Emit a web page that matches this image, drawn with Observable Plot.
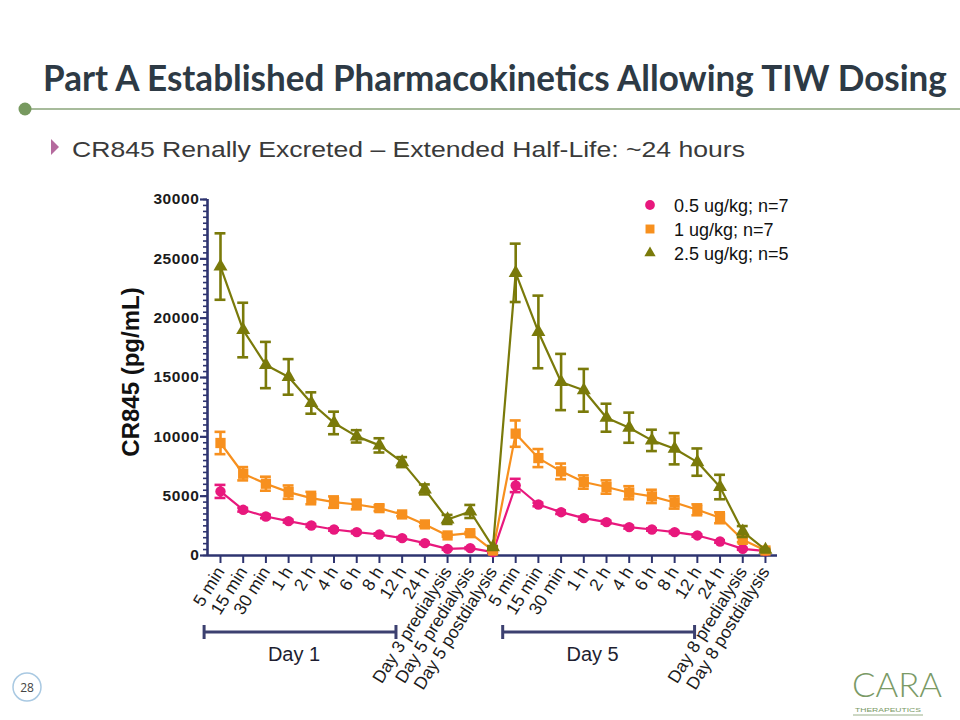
<!DOCTYPE html>
<html>
<head>
<meta charset="utf-8">
<script src="https://cdn.jsdelivr.net/npm/d3@7"></script>
<script src="https://cdn.jsdelivr.net/npm/@observablehq/plot@0.6"></script>
<style>
  html, body { margin: 0; padding: 0; background: #ffffff; }
  #page { position: relative; width: 960px; height: 720px; overflow: hidden; background: #ffffff; }
  #chart { position: absolute; left: 0; top: 180px; }
  #deco { position: absolute; left: 0; top: 0; }
  #chart svg g[aria-label="y-axis tick label"] text { letter-spacing: 0.6px; }
</style>
</head>
<body>
<div id="page">
  <div id="chart"></div>
  <svg id="deco" width="960" height="720"></svg>
</div>
<script>
// ---------- data ----------
const xLabels = [
  "5 min", "15 min", "30 min", "1 h", "2 h", "4 h", "6 h", "8 h", "12 h", "24 h",
  "Day 3 predialysis", "Day 5 predialysis", "Day 5 postdialysis",
  "5 min", "15 min", "30 min", "1 h", "2 h", "4 h", "6 h", "8 h", "12 h", "24 h",
  "Day 8 predialysis", "Day 8 postdialysis"
];
const seriesNames = ["0.5 ug/kg; n=7", "1 ug/kg; n=7", "2.5 ug/kg; n=5"];

const mean05 = [5400, 3850, 3290, 2900, 2530, 2190, 1970, 1770, 1460, 1040, 560, 620, 280,
                5900, 4300, 3650, 3150, 2810, 2390, 2190, 1970, 1690, 1180, 560, 370];
const sem05  = [550, 150, 150, 120, 120, 100, 100, 100, 100, 80, 80, 80, 50,
                560, 150, 150, 120, 120, 120, 100, 100, 100, 100, 80, 50];

const mean1  = [9480, 6890, 6050, 5340, 4840, 4500, 4300, 3990, 3460, 2620, 1690, 1880, 420,
                10270, 8210, 7090, 6190, 5770, 5290, 4980, 4470, 3850, 3180, 1320, 420];
const sem1   = [940, 560, 590, 560, 520, 480, 410, 240, 150, 150, 100, 100, 60,
                1110, 760, 660, 560, 560, 550, 560, 520, 460, 460, 200, 60];

const mean25 = [24350, 19000, 16050, 15050, 12850, 11170, 10040, 9280, 7870, 5570, 3040, 3710, 700,
                23820, 18840, 14620, 13920, 11610, 10770, 9700, 9000, 7870, 5770, 2020, 480];
const sem25  = [2800, 2300, 1950, 1500, 900, 950, 520, 600, 420, 420, 380, 550, 100,
                2460, 3060, 2370, 1800, 1180, 1270, 900, 1320, 1150, 1030, 460, 80];

const yTicks = [0, 5000, 10000, 15000, 20000, 25000, 30000];
const yMinorStep = 500;
const dayGroups = ["Day 1", "Day 5"];
const dayFrom = [-0.7, 12.45];
const dayTo = [7.75, 20.9];

// ---------- styles ----------
const colors = ["#e8187d", "#f7901e", "#7a7a0a"];
const symbols = ["circle", "square", "triangle"];
const radii = [5.2, 5.8, 5.2];
const axisColor = "#2e3470";
const font = "'Liberation Sans', Arial, sans-serif";

const allMeans = [mean05, mean1, mean25];
const allSems = [sem05, sem1, sem25];
const xDomain = [-0.572, 24.53];

const rows = seriesNames.map((name, s) =>
  xLabels.map((lab, i) => ({ i, label: lab, series: name, s, v: allMeans[s][i], e: allSems[s][i] }))
);

const seriesMarks = rows.flatMap((data, s) => [
  Plot.line(data, { x: "i", y: "v", stroke: colors[s], strokeWidth: 2.2 }),
  Plot.ruleX(data, { x: "i", y1: d => d.v - d.e, y2: d => d.v + d.e, stroke: colors[s], strokeWidth: 2.6 }),
  Plot.ruleY(data, { y: d => d.v + d.e, x1: d => d.i - 0.24, x2: d => d.i + 0.24, stroke: colors[s], strokeWidth: 2.6 }),
  Plot.ruleY(data, { y: d => d.v - d.e, x1: d => d.i - 0.24, x2: d => d.i + 0.24, stroke: colors[s], strokeWidth: 2.6 }),
  Plot.dot(data, { x: "i", y: "v", symbol: () => symbols[s], r: radii[s], fill: colors[s], stroke: "none" })
]);

const plot = Plot.plot({
  width: 960,
  height: 540,
  marginTop: 19,
  marginBottom: 165,
  marginLeft: 207,
  marginRight: 183,
  x: { type: "linear", domain: xDomain },
  y: { domain: [0, 30000] },
  style: { fontFamily: font, color: "#1b1b1b", background: "transparent", overflow: "visible" },
  marks: [
    Plot.axisY({ ticks: d3.range(0, 30001, yMinorStep), tickSize: 4, text: null, stroke: axisColor, strokeWidth: 1.6, label: null }),
    Plot.axisY({ ticks: yTicks, tickSize: 7, tickPadding: 1, tickFormat: d => String(d),
                 stroke: axisColor, strokeWidth: 2.2,
                 fontWeight: "bold", fontSize: 15.5, fill: "#1b1b1b", label: null }),
    Plot.axisX({ ticks: d3.range(xLabels.length), tickFormat: i => xLabels[i], tickRotate: -58,
                 tickSize: 8, tickPadding: 5, fontSize: 17.5, fill: "#1b1b1b",
                 stroke: axisColor, strokeWidth: 2, label: null }),
    Plot.ruleY([0], { stroke: axisColor, strokeWidth: 2.6 }),
    Plot.ruleX([xDomain[0]], { stroke: axisColor, strokeWidth: 2.6 }),
    ...seriesMarks
  ]
});
document.getElementById("chart").appendChild(plot);

// ---------- decorations (title, legend, brackets) ----------
const deco = d3.select("#deco");
const xs = plot.scale("x");

// title: fitted to the reference width, then stretched vertically
const titleWidth = 904, titleSize = 36;
const title = deco.append("text")
  .attr("x", 0).attr("y", 0)
  .attr("font-family", "Lato, 'Open Sans', sans-serif")
  .attr("font-weight", 700).attr("font-size", titleSize).attr("fill", "#2d3a45")
  .text("Part A Established Pharmacokinetics Allowing TIW Dosing");
const natural = title.node().getComputedTextLength();
const fitSize = titleSize * titleWidth / natural;
title.attr("font-size", fitSize)
  .attr("transform", `translate(43,91) scale(1,${(titleSize / fitSize).toFixed(4)})`);

// header rule
deco.append("line").attr("x1", 25).attr("x2", 960).attr("y1", 109).attr("y2", 109)
  .attr("stroke", "#8aa57a").attr("stroke-width", 1.5);
deco.append("circle").attr("cx", 25).attr("cy", 109).attr("r", 6.5).attr("fill", "#77995f");

// subtitle
deco.append("path").attr("d", "M51,139 L59,147 L51,155 Z").attr("fill", "#b56a9e");
deco.append("text")
  .attr("x", 72).attr("y", 157)
  .attr("textLength", 673).attr("lengthAdjust", "spacingAndGlyphs")
  .attr("font-family", font).attr("font-size", 22).attr("fill", "#3a3a3a")
  .text("CR845 Renally Excreted \u2013 Extended Half-Life: ~24 hours");

// y-axis label
deco.append("text")
  .attr("transform", "translate(139,372) rotate(-90)")
  .attr("text-anchor", "middle")
  .attr("font-family", font).attr("font-weight", "bold").attr("font-size", 24).attr("fill", "#111")
  .text("CR845 (pg/mL)");

// legend
const legendY = [205, 229, 253];
seriesNames.forEach((name, s) => {
  const sym = d3.symbol().type(
    symbols[s] === "circle" ? d3.symbolCircle : symbols[s] === "square" ? d3.symbolSquare : d3.symbolTriangle
  ).size(s === 0 ? 75 : s === 1 ? 80 : 55);
  deco.append("path").attr("d", sym()).attr("transform", `translate(650,${legendY[s]})`).attr("fill", colors[s]);
  deco.append("text").attr("x", 674).attr("y", legendY[s] + 6.5)
    .attr("font-family", font).attr("font-size", 18).attr("fill", "#111")
    .text(name);
});

// day brackets
dayGroups.forEach((g, k) => {
  const x1 = xs.apply(dayFrom[k]), x2 = xs.apply(dayTo[k]);
  const y = 632;
  const gg = deco.append("g").attr("stroke", "#3c4070").attr("stroke-width", 3);
  gg.append("line").attr("x1", x1).attr("x2", x2).attr("y1", y).attr("y2", y);
  gg.append("line").attr("x1", x1).attr("x2", x1).attr("y1", y - 7).attr("y2", y + 7);
  gg.append("line").attr("x1", x2).attr("x2", x2).attr("y1", y - 7).attr("y2", y + 7);
  deco.append("text").attr("x", (x1 + x2) / 2 - 6).attr("y", 661).attr("text-anchor", "middle")
    .attr("font-family", font).attr("font-size", 20).attr("fill", "#1e1e30").text(g);
});

// page number
deco.append("circle").attr("cx", 27).attr("cy", 687).attr("r", 14)
  .attr("fill", "#fff").attr("stroke", "#a9c9e2").attr("stroke-width", 1.5);
deco.append("text").attr("x", 27).attr("y", 691.5).attr("text-anchor", "middle")
  .attr("font-family", "'Open Sans', sans-serif").attr("font-size", 12).attr("fill", "#444").text("28");

// logo
deco.append("text").attr("x", 852).attr("y", 697)
  .attr("textLength", 90).attr("lengthAdjust", "spacingAndGlyphs")
  .attr("font-family", "Lato, sans-serif").attr("font-weight", 300).attr("font-size", 34).attr("fill", "#7a9a66")
  .text("CARA");
deco.append("text").attr("x", 855).attr("y", 712)
  .attr("textLength", 66).attr("lengthAdjust", "spacingAndGlyphs")
  .attr("font-family", font).attr("font-size", 5.5).attr("fill", "#7a9a66")
  .text("THERAPEUTICS");
deco.append("line").attr("x1", 853).attr("x2", 923).attr("y1", 715).attr("y2", 715)
  .attr("stroke", "#9ab089").attr("stroke-width", 1);
</script>
</body>
</html>
